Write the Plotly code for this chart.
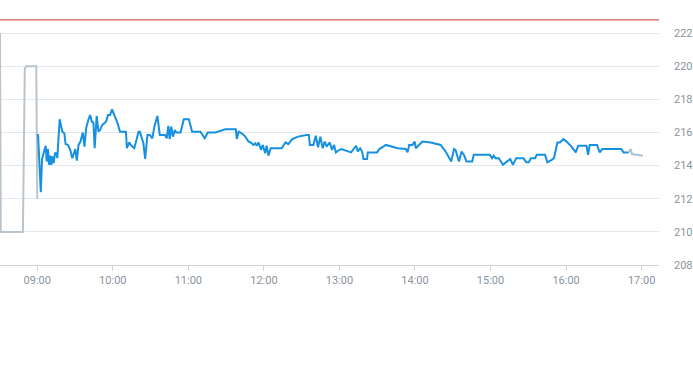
import pandas as pd
import plotly.graph_objects as go

BASE = pd.Timestamp("2024-01-02 09:00:00")

# Pre-market (minutes relative to 09:00, price)
pre_min = [-29.6, -29.0, -11.4, -9.9, -8.7, -0.8, 0.0]
pre_val = [222.0, 210.0, 210.0, 219.85, 220.0, 220.0, 212.0]

# Regular session
reg_min = [0.6, 2.8, 3.8, 5.1, 6.7, 7.5, 8.5, 9.3, 10.4, 11.2, 12.2, 13.0, 14.1, 15.2, 15.9,
           17.8, 19.1, 19.9, 21.5, 22.5, 24.3, 26.2, 27.8, 28.8, 30.2, 31.4, 32.8, 34.3, 36.2,
           37.5, 38.8, 40.7, 42.0, 43.3, 44.6, 45.6, 47.2, 48.6, 49.9, 51.5, 53.3, 54.6, 56.2,
           57.8, 59.4, 61.2, 62.5, 63.8, 65.7, 70.4, 71.2, 73.0, 74.8, 77.0, 78.8, 80.4, 81.5,
           82.7, 84.3, 85.7, 87.5, 89.4, 91.4, 93.0, 95.4, 97.3, 101.4, 102.8, 104.1, 105.2,
           106.4, 107.8, 109.3, 110.4, 113.8, 116.4, 120.4, 123.0, 129.6, 133.0, 135.4, 141.5,
           149.4, 157.7, 158.5, 159.9, 162.5, 165.2, 167.8, 169.6, 171.7, 173.1, 174.3, 175.7,
           177.8, 179.1, 181.0, 182.2, 183.6, 185.4, 194.1, 197.2, 199.3, 202.5, 207.2, 213.8,
           215.7, 216.5, 219.3, 221.2, 223.0, 224.8, 226.7, 228.3, 229.9, 232.3, 234.1, 235.7,
           237.2, 238.8, 241.4, 249.3, 253.2, 254.6, 256.4, 258.0, 259.1, 261.9, 262.5, 269.9,
           271.7, 277.0, 286.2, 292.7, 294.1, 295.4, 298.0, 299.8, 300.6, 305.9, 312.5, 320.4,
           324.3, 328.8, 331.0, 332.2, 334.9, 337.0, 338.9, 340.9, 345.4, 346.7, 359.4, 361.2,
           362.5, 363.8, 366.5, 369.9, 373.0, 375.6, 377.8, 380.4, 386.2, 388.3, 390.4, 392.0,
           395.4, 396.7, 403.3, 405.1, 408.6, 410.4, 413.1, 415.1, 417.8, 420.4, 424.3, 427.7,
           429.6, 436.2, 437.5, 438.8, 444.6, 446.7, 448.8, 463.8, 465.6, 469.7]
reg_val = [215.9, 212.4, 214.4, 214.8, 215.2, 214.25, 215.0, 214.05, 214.6, 214.05, 214.55, 214.15,
           214.75, 214.75, 214.45, 216.8, 216.35, 216.05, 215.95, 215.3, 215.25, 214.95, 214.45,
           214.75, 215.0, 214.3, 215.25, 215.45, 216.0, 215.15, 216.25, 216.8, 217.05, 216.65,
           216.6, 215.05, 217.0, 216.05, 216.15, 216.45, 216.55, 216.65, 217.05, 217.05, 217.4,
           217.05, 216.75, 216.55, 216.05, 216.05, 215.05, 215.4, 215.2, 215.05, 215.55, 216.05,
           216.05, 215.75, 215.35, 214.4, 215.85, 215.85, 215.65, 216.35, 217.0, 215.85, 215.85,
           215.65, 216.4, 215.6, 216.35, 215.75, 216.15, 216.0, 216.0, 216.8, 216.8, 216.05,
           216.05, 215.65, 216.0, 216.0, 216.2, 216.2, 215.6, 216.05, 215.95, 215.75, 215.45,
           215.4, 215.25, 215.35, 215.2, 215.4, 214.95, 215.25, 214.75, 215.2, 214.6, 215.05,
           215.05, 215.4, 215.3, 215.6, 215.75, 215.85, 215.85, 215.25, 215.25, 215.8, 215.1,
           215.75, 215.05, 215.45, 215.15, 215.4, 214.95, 215.25, 214.8, 214.9, 215.0, 214.8,
           215.2, 214.85, 215.05, 214.85, 214.4, 214.4, 214.8, 214.8, 215.0, 215.25, 215.05,
           215.0, 214.8, 215.25, 215.25, 215.45, 215.05, 215.45, 215.4, 215.25, 214.85, 214.25,
           215.0, 214.95, 214.25, 214.85, 214.65, 214.25, 214.25, 214.65, 214.65, 214.45, 214.6,
           214.45, 214.45, 214.05, 214.25, 214.4, 214.05, 214.45, 214.45, 214.2, 214.2, 214.45,
           214.45, 214.65, 214.65, 214.2, 214.35, 214.45, 215.4, 215.4, 215.6, 215.45, 215.15,
           214.8, 215.2, 215.2, 214.65, 215.25, 215.25, 214.8, 215.0, 215.0, 214.8, 214.8]

# Post-market
post_min = [469.7, 471.3, 472.3, 481.0]
post_val = [214.8, 215.0, 214.7, 214.6]

ref_level = 222.8
y_ticks = [208, 210, 212, 214, 216, 218, 220, 222]


def to_time(mins):
    return [BASE + pd.Timedelta(minutes=m) for m in mins]


fig = go.Figure()
fig.add_trace(go.Scatter(x=to_time(pre_min), y=pre_val, mode="lines",
                         line=dict(color="#b9c4cc", width=2), hoverinfo="skip"))
fig.add_trace(go.Scatter(x=to_time(reg_min), y=reg_val, mode="lines",
                         line=dict(color="#1690e0", width=2)))
fig.add_trace(go.Scatter(x=to_time(post_min), y=post_val, mode="lines",
                         line=dict(color="#b0c0d4", width=2), hoverinfo="skip"))

fig.add_hline(y=ref_level, line=dict(color="#d0342c", width=1))

x_start = BASE + pd.Timedelta(minutes=-29.6)
x_end = BASE + pd.Timedelta(minutes=493.8)

fig.update_layout(
    width=693, height=365,
    margin=dict(l=0, r=30, t=0, b=100),
    paper_bgcolor="white", plot_bgcolor="white",
    showlegend=False,
    font=dict(family="Roboto, Liberation Sans, sans-serif", size=11, color="#8a949e"),
    xaxis=dict(
        type="date", range=[x_start, x_end],
        tickformat="%H:%M", dtick=3600000, tick0=BASE,
        showgrid=False, showline=True, linecolor="#ccd3da", linewidth=1,
        ticks="outside", ticklen=5, tickcolor="#ccd3da",
        zeroline=False,
    ),
    yaxis=dict(
        side="right", range=[208, 224], tickvals=y_ticks,
        showgrid=True, gridcolor="#e4e8ec", gridwidth=1,
        zeroline=False, showline=False, ticks="",
        ticklabelstandoff=14,
    ),
)

fig.write_html("out.html")
